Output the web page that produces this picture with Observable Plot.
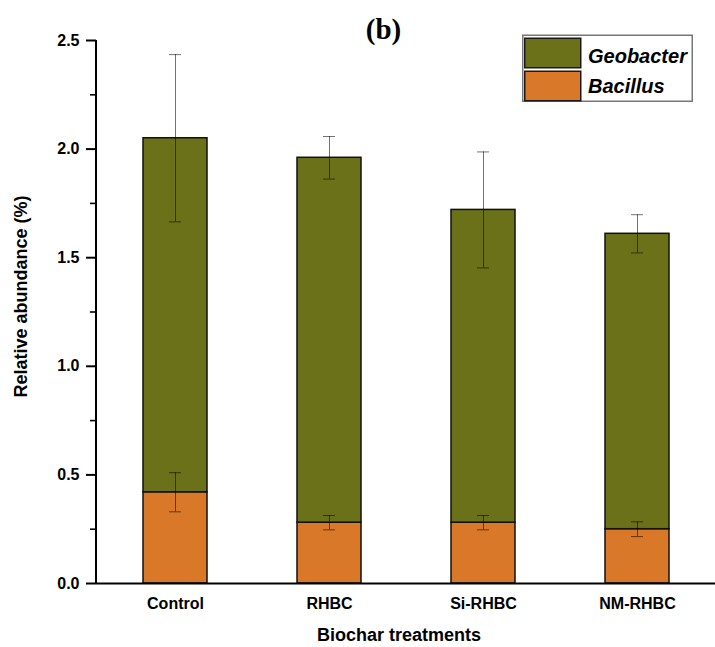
<!DOCTYPE html>
<html><head><meta charset="utf-8">
<script src="https://cdn.jsdelivr.net/npm/d3@7"></script>
<script src="https://cdn.jsdelivr.net/npm/@observablehq/plot@0.6"></script>
<style>
html,body{margin:0;padding:0;background:#fff;overflow:hidden;}
#wrap{position:relative;width:715px;height:647px;overflow:hidden;font-family:"Liberation Sans",Arial,sans-serif;}
#wrap svg{display:block;}
</style>
</head><body>
<div id="wrap"></div>
<script>
const categories = ["Control", "RHBC", "Si-RHBC", "NM-RHBC"];
const series = ["Bacillus", "Geobacter"];
const bacillus = [0.42, 0.28, 0.28, 0.25];
const bacillusErr = [0.09, 0.033, 0.033, 0.034];
const geobacter = [1.63, 1.68, 1.44, 1.36];
const geobacterErr = [0.385, 0.098, 0.267, 0.088];
const yTicks = [0, 0.5, 1.0, 1.5, 2.0, 2.5];
const yMinorTicks = [0.25, 0.75, 1.25, 1.75, 2.25];
const colors = ["#d97828", "#6b7119"];
const legendOrder = ["Geobacter", "Bacillus"];

const rows = [];
categories.forEach((c, i) => rows.push({cat: c, series: "Bacillus", value: bacillus[i]}));
categories.forEach((c, i) => rows.push({cat: c, series: "Geobacter", value: geobacter[i]}));

const errs = [];
categories.forEach((c, i) => {
  const t1 = bacillus[i];
  errs.push({cat: c, lo: t1 - bacillusErr[i], hi: t1 + bacillusErr[i]});
  const t2 = bacillus[i] + geobacter[i];
  errs.push({cat: c, lo: t2 - geobacterErr[i], hi: t2 + geobacterErr[i]});
});

const marginLeft = 96;
const errStyle = {stroke: "#000", strokeOpacity: 0.55, strokeWidth: 1};

const plot = Plot.plot({
  width: 715, height: 647,
  marginLeft, marginRight: 0, marginTop: 40, marginBottom: 64,
  style: {fontFamily: "Liberation Sans, Arial, sans-serif", background: "transparent", color: "#fff"},
  x: {domain: categories, paddingInner: 0.587, paddingOuter: 0.3},
  y: {domain: [0, 2.5]},
  color: {domain: series, range: colors},
  marks: [
    Plot.barY(rows, {x: "cat", y: "value", fill: "series", stroke: "#111", strokeWidth: 1.5}),
    Plot.ruleX(errs, {x: "cat", y1: "lo", y2: "hi", ...errStyle}),
    Plot.tickY(errs, {x: "cat", y: "lo", inset: 26, ...errStyle}),
    Plot.tickY(errs, {x: "cat", y: "hi", inset: 26, ...errStyle}),
    Plot.ruleY([0], {strokeWidth: 2, stroke: "#000"}),
    Plot.axisY({ticks: yTicks, tickFormat: d => d.toFixed(1), tickSize: 10, tickPadding: 7,
      fontSize: 16, fontWeight: "bold", label: null, strokeWidth: 2, stroke: "#000", fill: "#000"}),
    Plot.axisY({ticks: yMinorTicks, tickFormat: () => "", tickSize: 6, label: null, strokeWidth: 1.6, stroke: "#000"}),
    Plot.axisX({tickSize: 0, tickPadding: 14, fontSize: 16, fontWeight: "bold", label: null, stroke: "#000", fill: "#000"}),
    Plot.text(["Biochar treatments"], {frameAnchor: "bottom", lineAnchor: "top", textAnchor: "middle",
      dy: 45, dx: -7, fontSize: 18, fontWeight: "bold", fill: "#000"}),
    Plot.text(["Relative abundance (%)"], {frameAnchor: "left", rotate: -90, textAnchor: "middle",
      lineAnchor: "middle", dx: -75.5, dy: -15.5, fontSize: 18, fontWeight: "bold", fill: "#000"}),
    Plot.text(["(b)"], {frameAnchor: "top", lineAnchor: "bottom", textAnchor: "middle", dx: -22.5, dy: -2,
      fontSize: 29, fontWeight: "bold", fontFamily: "Liberation Serif, Times New Roman, serif", fill: "#000"})
  ]
});

// y-axis line along the left edge of the frame, spanning the y scale
const ys = plot.scale("y");
const svg = d3.select(plot);
svg.append("line")
  .attr("x1", marginLeft).attr("x2", marginLeft)
  .attr("y1", ys.apply(ys.domain[0])).attr("y2", ys.apply(ys.domain[1]))
  .attr("stroke", "#000").attr("stroke-width", 2);

// legend (inside the plot area, top right)
const lg = svg.append("g").attr("text-anchor", "start");
lg.append("rect").attr("x", 522.75).attr("y", 35.25).attr("width", 169.5).attr("height", 66)
  .attr("fill", "#fff").attr("stroke", "#777").attr("stroke-width", 1.5);
legendOrder.forEach((name, k) => {
  lg.append("rect").attr("x", 524.75).attr("y", 38.25 + k * 33).attr("width", 56).attr("height", 29.5)
    .attr("fill", colors[series.indexOf(name)]).attr("stroke", "#1a1a1a").attr("stroke-width", 1.5);
  lg.append("text").attr("x", 588).attr("y", 63 + k * 30)
    .attr("text-anchor", "start")
    .attr("font-family", "Liberation Sans, Arial, sans-serif").attr("font-size", 20)
    .attr("font-weight", "bold").attr("font-style", "italic").attr("fill", "#000")
    .text(name);
});

document.getElementById("wrap").appendChild(plot);
</script>
</body></html>
